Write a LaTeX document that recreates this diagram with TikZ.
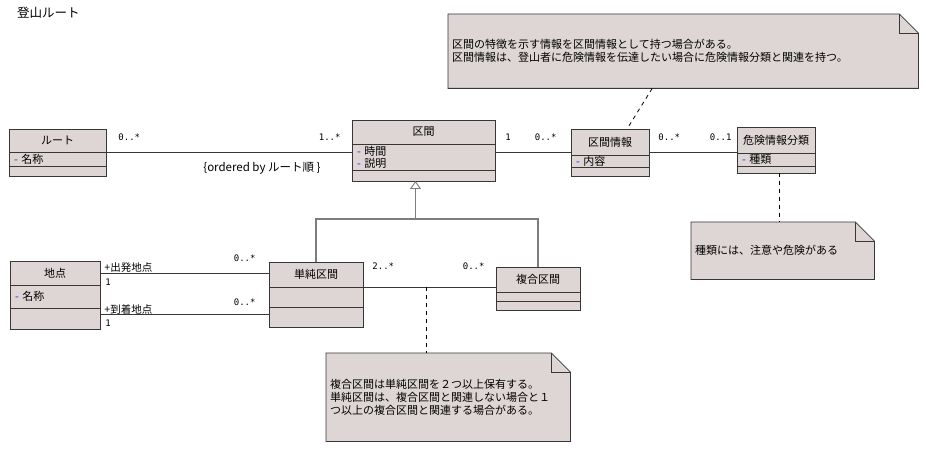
\documentclass[tikz,border=0pt]{standalone}
\usepackage{fontspec}
\setmainfont{Noto Sans CJK JP}
\newfontfamily\multfont{DejaVu Sans Mono}
\usetikzlibrary{arrows.meta,positioning,backgrounds}

\definecolor{boxfill}{RGB}{222,214,213}
\definecolor{boxline}{RGB}{55,55,55}
\definecolor{gengray}{RGB}{125,125,125}
\definecolor{visblue}{RGB}{40,40,210}

\newcommand{\attrmark}{\textcolor{visblue}{-}\ }
\newcommand{\drawnote}[1]{%
  \begin{scope}[on background layer]
    \draw[notebody] (#1.north west) -- ([xshift=-19pt]#1.north east) -- ([yshift=-19pt]#1.north east)
      -- (#1.south east) -- (#1.south west) -- cycle;
    \draw[notebody, fill=none] ([xshift=-19pt]#1.north east) |- ([yshift=-19pt]#1.north east);
  \end{scope}}

\begin{document}
\begin{tikzpicture}[
  x=1pt, y=-1pt,
  font=\fontsize{11}{13}\selectfont,
  clsname/.style={draw=boxline, fill=boxfill, line width=0.8pt, inner sep=0pt, outer sep=0pt,
    anchor=north west, align=center},
  clspart/.style={draw=boxline, fill=boxfill, line width=0.8pt, inner xsep=5pt, inner ysep=0pt,
    outer sep=0pt, align=left, below=0pt of #1},
  notebox/.style={anchor=north west, inner xsep=4pt, inner ysep=0pt, align=left},
  notebody/.style={draw=boxline, fill=boxfill, line width=0.8pt},
  assoc/.style={draw=boxline, line width=0.9pt},
  genline/.style={draw=gengray, line width=1.2pt},
  noteline/.style={draw=black, line width=0.8pt, dash pattern=on 4pt off 4pt},
  mult/.style={font=\multfont\fontsize{9}{11}\selectfont, inner sep=0pt},
  rolename/.style={font=\fontsize{10.5}{12}\selectfont, inner sep=0pt}
]
\useasboundingbox (0,0) rectangle (926,449);

\node[anchor=west, inner sep=0pt, font=\fontsize{12.5}{14}\selectfont] (title) at (17,13) {登山ルート};

% classes
\node[clsname, minimum width=97pt, minimum height=23pt] (routename) at (9,129) {ルート};
\node[clspart=routename, text width=87pt, minimum height=14pt] (routeattr) {\attrmark 名称};
\node[clspart=routeattr, text width=87pt, minimum height=10pt] (routeops) {};

\node[clsname, minimum width=143pt, minimum height=24pt] (sectionname) at (352,120) {区間};
\node[clspart=sectionname, text width=133pt, minimum height=26pt,
  font=\fontsize{11}{12}\selectfont] (sectionattr) {\attrmark 時間\\\attrmark 説明};
\node[clspart=sectionattr, text width=133pt, minimum height=11pt] (sectionops) {};

\node[clsname, minimum width=78pt, minimum height=26pt] (infoname) at (571,129) {区間情報};
\node[clspart=infoname, text width=68pt, minimum height=12pt] (infoattr) {\attrmark 内容};
\node[clspart=infoattr, text width=68pt, minimum height=9pt] (infoops) {};

\node[clsname, minimum width=78pt, minimum height=26pt] (hazardname) at (737,127) {危険情報分類};
\node[clspart=hazardname, text width=68pt, minimum height=13pt] (hazardattr) {\attrmark 種類};
\node[clspart=hazardattr, text width=68pt, minimum height=7pt] (hazardops) {};

\node[clsname, minimum width=90pt, minimum height=24pt] (placename) at (10,261) {地点};
\node[clspart=placename, text width=80pt, minimum height=23pt] (placeattr) {\attrmark 名称};
\node[clspart=placeattr, text width=80pt, minimum height=21pt] (placeops) {};

\node[clsname, minimum width=94pt, minimum height=25pt] (simplename) at (269,262) {単純区間};
\node[clspart=simplename, text width=84pt, minimum height=20pt] (simpleattr) {};
\node[clspart=simpleattr, text width=84pt, minimum height=20pt] (simpleops) {};

\node[clsname, minimum width=84pt, minimum height=25pt] (complexname) at (496,267) {複合区間};
\node[clspart=complexname, text width=74pt, minimum height=9pt] (complexattr) {};
\node[clspart=complexattr, text width=74pt, minimum height=9pt] (complexops) {};

% notes
\node[notebox, text width=462pt, minimum height=74pt] (note1) at (448,14)
  {区間の特徴を示す情報を区間情報として持つ場合がある。\\区間情報は、登山者に危険情報を伝達したい場合に危険情報分類と関連を持つ。};
\drawnote{note1}
\node[notebox, text width=175pt, minimum height=57pt] (note2) at (691,222) {種類には、注意や危険がある};
\drawnote{note2}
\node[notebox, text width=236pt, minimum height=88pt] (note3) at (326,353)
  {複合区間は単純区間を２つ以上保有する。\\単純区間は、複合区間と関連しない場合と１\\つ以上の複合区間と関連する場合がある。};
\drawnote{note3}

% associations
\draw[assoc] (routename.south east) -- (routename.south east -| sectionname.west)
  node[mult, pos=0, anchor=west, xshift=12pt, yshift=15pt] {0..*}
  node[mult, pos=1, anchor=east, xshift=-11pt, yshift=15pt] {1..*}
  node[rolename, pos=0.634, yshift=-16pt, font=\fontsize{11.5}{13}\selectfont] {\{ordered by ルート順 \}};
\draw[assoc] (routename.south east -| sectionname.east) -- (routename.south east -| infoname.west)
  node[mult, pos=0, anchor=west, xshift=10pt, yshift=15pt] {1}
  node[mult, pos=1, anchor=east, xshift=-14pt, yshift=15pt] {0..*};
\draw[assoc] (routename.south east -| infoname.east) -- (routename.south east -| hazardname.west)
  node[mult, pos=0, anchor=west, xshift=9pt, yshift=15pt] {0..*}
  node[mult, pos=1, anchor=east, xshift=-5pt, yshift=15pt] {0..1};

\draw[assoc] (placename.east) -- (placename.east -| simplename.west)
  node[rolename, pos=0, anchor=base west, xshift=4pt, yshift=1.5pt] {+出発地点}
  node[mult, pos=0, anchor=west, xshift=5pt, yshift=-9pt] {1}
  node[mult, pos=1, anchor=east, xshift=-13pt, yshift=15pt] {0..*};
\draw[assoc] ([yshift=4pt]placeops.east) -- ([yshift=4pt]placeops.east -| simpleops.west)
  node[rolename, pos=0, anchor=base west, xshift=4pt, yshift=1.5pt] {+到着地点}
  node[mult, pos=0, anchor=west, xshift=5pt, yshift=-9pt] {1}
  node[mult, pos=1, anchor=east, xshift=-13pt, yshift=12pt] {0..*};

\draw[assoc] (simplename.south east) -- coordinate[pos=0.48] (compmid) (simplename.south east -| complexname.west)
  node[mult, pos=0, anchor=west, xshift=9pt, yshift=21pt] {2..*}
  node[mult, pos=1, anchor=east, xshift=-11pt, yshift=21pt] {0..*};

% generalization
\coordinate (gentip) at ([xshift=-8pt]sectionops.south);
\coordinate (genbar) at ([yshift=43pt]simplename.north);
\draw[genline] (simplename.north) -- (genbar) -| (complexname.north);
\draw[genline, -{Triangle[open, length=8pt, width=11pt, line width=0.9pt]}] (genbar -| gentip) -- (gentip);

% note links
\draw[noteline] ([xshift=-31pt]note1.south) -- ([xshift=17pt]infoname.north);
\draw[noteline] ([xshift=3pt]hazardops.south) -- ([xshift=3pt]hazardops.south |- note2.north);
\draw[noteline] (compmid) -- (compmid |- note3.north);

\end{tikzpicture}
\end{document}
